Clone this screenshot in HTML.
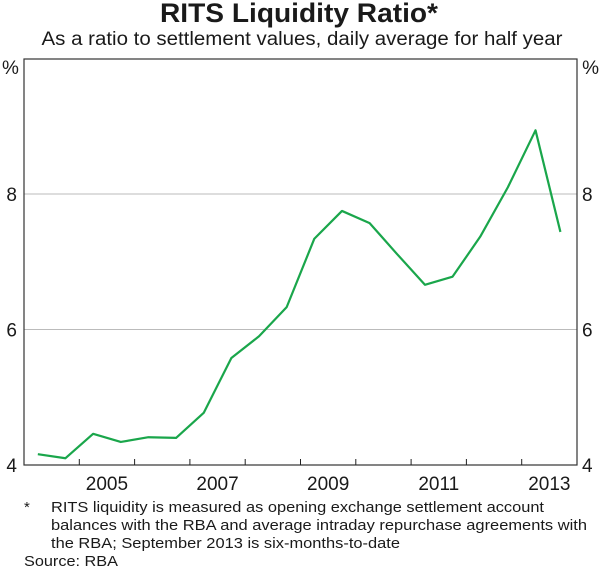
<!DOCTYPE html>
<html><head><meta charset="utf-8"><style>
body{margin:0;background:#fff;font-family:"Liberation Sans",Arial,sans-serif;}
svg text{font-family:"Liberation Sans",Arial,sans-serif;fill:#1a1a1a;}
</style></head><body>
<svg id="c" width="600" height="568">
<text x="299" y="22" text-anchor="middle" font-size="27" font-weight="bold" textLength="278" lengthAdjust="spacingAndGlyphs">RITS Liquidity Ratio*</text>
<text x="302" y="45" text-anchor="middle" font-size="19" textLength="521" lengthAdjust="spacingAndGlyphs">As a ratio to settlement values, daily average for half year</text>
<text x="2" y="74" font-size="19">%</text>
<text x="599" y="74" text-anchor="end" font-size="19">%</text>
<g id="grid"></g><g id="axes"></g><g id="series"></g>
<text x="24" y="512" font-size="15">*</text>
<text x="51" y="512" font-size="15" textLength="493" lengthAdjust="spacingAndGlyphs">RITS liquidity is measured as opening exchange settlement account</text>
<text x="51" y="530" font-size="15" textLength="536" lengthAdjust="spacingAndGlyphs">balances with the RBA and average intraday repurchase agreements with</text>
<text x="51" y="548" font-size="15" textLength="349" lengthAdjust="spacingAndGlyphs">the RBA; September 2013 is six-months-to-date</text>
<text x="24" y="566" font-size="15" textLength="94" lengthAdjust="spacingAndGlyphs">Source: RBA</text>
</svg>
<script>
const dates=[2004.25,2004.75,2005.25,2005.75,2006.25,2006.75,2007.25,2007.75,2008.25,2008.75,2009.25,2009.75,2010.25,2010.75,2011.25,2011.75,2012.25,2012.75,2013.25,2013.7];
const values=[4.16,4.10,4.46,4.34,4.41,4.40,4.77,5.58,5.90,6.33,7.34,7.75,7.57,7.11,6.66,6.78,7.37,8.10,8.94,7.44];
const yTicks=[4,6,8];
const xLabels=[2005,2007,2009,2011,2013];
const X0=24,X1=577,Y0=465,YT=59;
const xs=d=>X0+(d-2004)/(2014-2004)*(X1-X0);
const ys=v=>Y0-(v-4)*67.75;
const NS="http://www.w3.org/2000/svg";
function mk(t,a,p){const e=document.createElementNS(NS,t);for(const k in a)e.setAttribute(k,a[k]);p.appendChild(e);return e;}
const grid=document.getElementById('grid'),axes=document.getElementById('axes'),ser=document.getElementById('series');
yTicks.forEach(v=>{
 if(v>4){const l=mk('line',{x1:X0,x2:X1,y1:ys(v),y2:ys(v),stroke:'#bbb','stroke-width':1},grid);
 
 }
 const a=mk('text',{x:X0-7,y:ys(v)+7,'text-anchor':'end','font-size':19},axes);a.textContent=v;
 
 
 const b=mk('text',{x:X1+5,y:ys(v)+7,'font-size':19},axes);b.textContent=v;
 
 
});
mk('rect',{x:X0,y:YT,width:X1-X0,height:Y0-YT,fill:'none',stroke:'#333','stroke-width':1.2},axes);
for(let y=2005;y<2014;y++){const t=mk('line',{x1:xs(y),x2:xs(y),y1:Y0,y2:Y0-6,stroke:'#222'},axes);
 
 }
xLabels.forEach(y=>{const t=mk('text',{x:xs(y+0.5),y:Y0+25,'text-anchor':'middle','font-size':19},axes);t.textContent=y;
 
 });
const p=mk('polyline',{points:dates.map((d,i)=>xs(d)+','+ys(values[i])).join(' '),fill:'none',stroke:'#1aa64b','stroke-width':2.2,'stroke-linejoin':'round'},ser);


</script>
</body></html>
